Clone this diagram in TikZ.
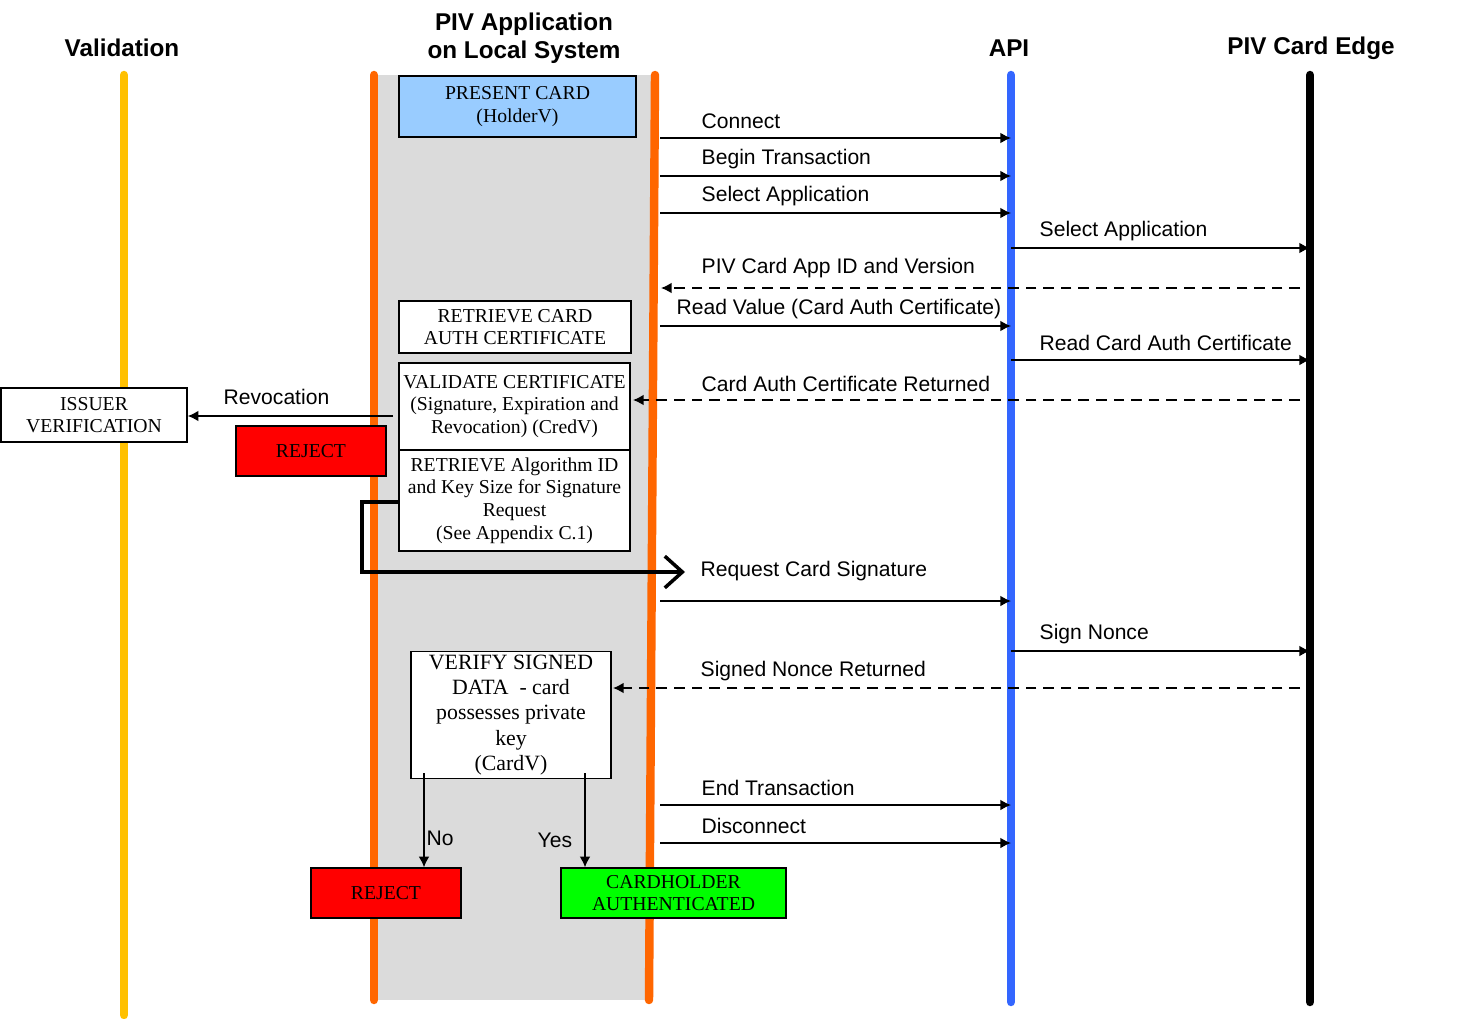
\documentclass[tikz,border=0pt]{standalone}
\usepackage{fontspec}
\setmainfont{Liberation Serif}
\setsansfont{Liberation Sans}
\usetikzlibrary{positioning,arrows.meta}
\definecolor{lifeYellow}{HTML}{FFC000}
\definecolor{lifeOrange}{HTML}{FF6600}
\definecolor{lifeBlue}{HTML}{3366FF}
\definecolor{boxBlue}{HTML}{99CCFF}
\definecolor{boxGreen}{HTML}{00FF00}
\begin{document}
\begin{tikzpicture}[x=0.01cm,y=-0.01cm,
    head/.style={font=\sffamily\bfseries\fontsize{6.9}{8}\selectfont,align=center},
    lbl/.style={font=\sffamily\fontsize{6}{7}\selectfont,anchor=west,inner sep=0pt},
    step node/.style={draw,thin,font=\fontsize{5.6}{6.4}\selectfont,align=center,inner sep=1pt},
    life/.style={line width=2.4pt,line cap=round},
    msg/.style={-{Latex[length=3pt,width=3pt]},thin},
    ret/.style={-{Latex[length=3pt,width=3pt]},thin,dash pattern=on 3pt off 2pt}
  ]
  \useasboundingbox (0,0) rectangle (1461,1018);
  % lane shading and lifelines
  \fill[black!14] (378,75) rectangle (652,1000);
  \draw[life,lifeYellow] (124,75) -- (124,1015);
  \draw[life,lifeOrange] (374,75) -- (374,1000);
  \draw[life,lifeOrange] (655,75) -- (649,1000);
  \draw[life,lifeBlue] (1011,75) -- (1011,1002);
  \draw[life,black] (1310,75) -- (1310,1002);
  % headers
  \node[head] (hv) at (122,48) {Validation};
  \node[head] (ha) at (524,38) {PIV Application\\on Local System};
  \node[head] (hapi) at (1009,48) {API};
  \node[head] (hc) at (1311,48) {PIV Card Edge};
  % steps
  \node[step node,fill=boxBlue,minimum width=2.37cm,minimum height=0.61cm] (present) at (517.5,106.5) {PRESENT CARD\\(HolderV)};
  \node[step node,fill=white,minimum width=2.32cm,minimum height=0.52cm] (retrieve) at (515,327) {RETRIEVE CARD\\AUTH CERTIFICATE};
  \node[step node,fill=white,minimum width=2.31cm,minimum height=0.87cm] (validate) at (514.5,406.5) {VALIDATE CERTIFICATE\\(Signature, Expiration and\\Revocation) (CredV)};
  \node[step node,fill=white,minimum width=2.31cm,minimum height=1.01cm] (algo) at (514.5,500.5) {RETRIEVE Algorithm ID\\and Key Size for Signature\\Request\\(See Appendix C.1)};
  \node[step node,fill=white,minimum width=1.86cm,minimum height=0.54cm] (issuer) at (94,415) {ISSUER\\VERIFICATION};
  \node[step node,fill=red,minimum width=1.5cm,minimum height=0.5cm] (reject1) at (311,451) {REJECT};
  \node[step node,fill=white,minimum width=2cm,minimum height=1.16cm,font=\fontsize{6.2}{7.2}\selectfont] (verify) at (511,715) {VERIFY SIGNED\\DATA\ \ - card\\possesses private\\key\\(CardV)};
  \node[step node,fill=red,minimum width=1.5cm,minimum height=0.5cm] (reject2) at (386,893) {REJECT};
  \node[step node,fill=boxGreen,minimum width=2.25cm,minimum height=0.5cm] (auth) at (673.5,893) {CARDHOLDER\\AUTHENTICATED};
  % message end points
  \foreach \n/\y in {1/138,2/176,3/213,4/326,5/601,6/805,7/843}{
    \coordinate (a\n) at (660,\y); \coordinate (b\n) at (1011,\y);}
  \foreach \n/\y in {1/248,2/360,3/651}{
    \coordinate (p\n) at (1011,\y); \coordinate (q\n) at (1310,\y);}
  \coordinate (r1) at (1300,288); \coordinate (s1) at (661,288);
  \coordinate (r2) at (1300,400); \coordinate (s2) at (633,400);
  \coordinate (r3) at (1300,688); \coordinate (s3) at (613,688);
  \coordinate (rev) at (393,416);
  \coordinate (bk1) at (362,502); \coordinate (bk2) at (362,572); \coordinate (bk3) at (685,572);
  \coordinate (no) at (424,773); \coordinate (yes) at (585,773);
  % messages
  \draw[msg] (a1) -- (b1); \node[lbl] (m1) at (701,121) {Connect};
  \draw[msg] (a2) -- (b2); \node[lbl] (m2) at (701,159) {Begin Transaction};
  \draw[msg] (a3) -- (b3); \node[lbl] (m3) at (701,196) {Select Application};
  \draw[msg] (p1) -- (q1); \node[lbl] (m4) at (1039,231) {Select Application};
  \draw[ret] (r1) -- (s1); \node[lbl] (m5) at (701,268) {PIV Card App ID and Version};
  \draw[msg] (a4) -- (b4); \node[lbl] (m6) at (676,309) {Read Value (Card Auth Certificate)};
  \draw[msg] (p2) -- (q2); \node[lbl] (m7) at (1039,343) {Read Card Auth Certificate};
  \draw[ret] (r2) -- (s2); \node[lbl] (m8) at (701,384) {Card Auth Certificate Returned};
  \draw[msg] (rev) -- (issuer.east|-rev); \node[lbl] (m9) at (223,397) {Revocation};
  \draw[line width=1pt,-{Straight Barb[length=5pt,width=9pt]}] (algo.west|-bk1) -- (bk1) -- (bk2) -- (bk3);
  \node[lbl] (m10) at (700,571) {Request Card Signature};
  \draw[msg] (a5) -- (b5);
  \draw[msg] (p3) -- (q3); \node[lbl] (m11) at (1039,634) {Sign Nonce};
  \draw[ret] (r3) -- (s3); \node[lbl] (m12) at (700,671) {Signed Nonce Returned};
  \draw[msg] (a6) -- (b6); \node[lbl] (m13) at (701,788) {End Transaction};
  \draw[msg] (a7) -- (b7); \node[lbl] (m14) at (701,826) {Disconnect};
  % outcomes
  \draw[msg] (no) -- (no|-reject2.north);
  \node[lbl] (mno) at (426,838) {No};
  \draw[msg] (yes) -- (yes|-auth.north);
  \node[lbl] (myes) at (537,840) {Yes};
\end{tikzpicture}
\end{document}
